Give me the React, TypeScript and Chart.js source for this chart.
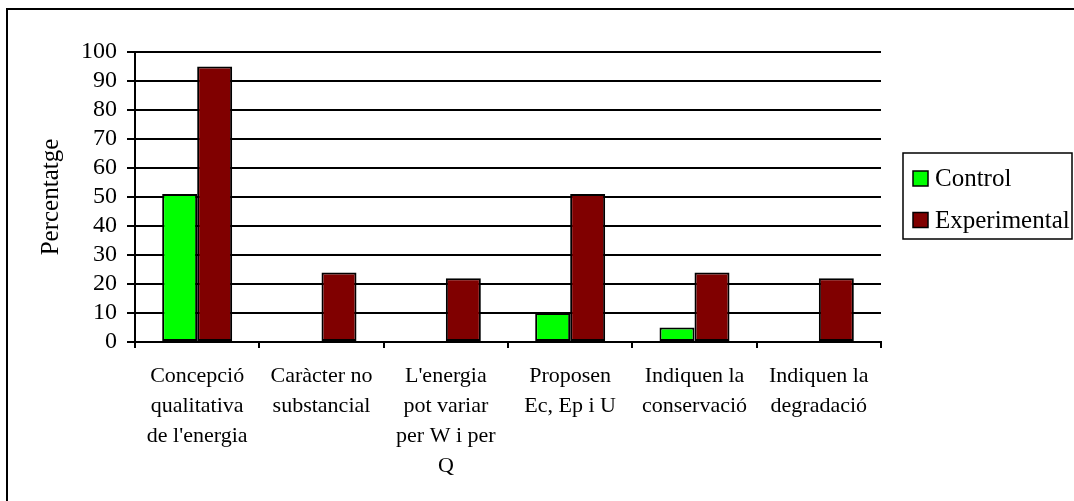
import React, { useEffect, useRef } from "react";
import { Chart, registerables } from "chart.js";

Chart.register(...registerables);

const categories: string[][] = [
  ["Concepció", "qualitativa", "de l'energia"],
  ["Caràcter no", "substancial"],
  ["L'energia", "pot variar", "per W i per", "Q"],
  ["Proposen", "Ec, Ep i U"],
  ["Indiquen la", "conservació"],
  ["Indiquen la", "degradació"],
];
const controlValues = [51, 0, 0, 10, 5, 0];
const experimentalValues = [95, 24, 22, 51, 24, 22];
const seriesNames = ["Control", "Experimental"];
const yAxisTitle = "Percentatge";

const FONT = "'Liberation Serif', 'Times New Roman', serif";

const legendPlugin = {
  id: "boxLegend",
  afterDraw(chart: any) {
    const ctx = chart.ctx;
    ctx.save();
    // outer frame
    ctx.strokeStyle = "#000";
    ctx.lineWidth = 2;
    ctx.strokeRect(7, 9, 1200, 700);
    // legend box
    const bx = 903, by = 153, bw = 169, bh = 86;
    ctx.lineWidth = 1.5;
    ctx.strokeRect(bx, by, bw, bh);
    ctx.font = `25px ${FONT}`;
    ctx.textBaseline = "middle";
    ctx.textAlign = "left";
    chart.data.datasets.forEach((ds: any, i: number) => {
      const cy = 178.5 + i * 41.5;
      ctx.fillStyle = ds.backgroundColor;
      ctx.fillRect(913, cy - 7.5, 15, 15);
      ctx.strokeStyle = "#000";
      ctx.lineWidth = 1.5;
      ctx.strokeRect(913, cy - 7.5, 15, 15);
      ctx.fillStyle = "#000";
      ctx.fillText(ds.label, 935, cy + 1);
    });
    ctx.restore();
  },
};

export default function App() {
  const ref = useRef<HTMLCanvasElement | null>(null);
  useEffect(() => {
    if (!ref.current) return;
    const chart = new Chart(ref.current, {
      type: "bar",
      data: {
        labels: categories,
        datasets: [
          {
            label: seriesNames[0],
            data: controlValues,
            backgroundColor: "#00FF00",
            borderColor: "#000",
            borderWidth: 2,
            borderSkipped: false,
          },
          {
            label: seriesNames[1],
            data: experimentalValues,
            backgroundColor: "#800000",
            borderColor: "#000",
            borderWidth: 2,
            borderSkipped: false,
          },
        ],
      },
      options: {
        animation: false,
        responsive: false,
        devicePixelRatio: 1,
        layout: { padding: { top: 52, right: 193, left: 0, bottom: 0 } },
        plugins: {
          legend: { display: false },
          tooltip: { enabled: false },
        },
        datasets: {
          bar: { categoryPercentage: 0.563, barPercentage: 1 },
        },
        scales: {
          x: {
            afterFit: (s: any) => {
              s.height = 159;
            },
            grid: {
              offset: true,
              drawOnChartArea: false,
              color: "#000",
              lineWidth: 2,
              tickLength: 6,
            },
            border: { color: "#000", width: 2 },
            ticks: {
              color: "#000",
              font: { family: FONT, size: 22, lineHeight: 1.36 },
              padding: 13,
              maxRotation: 0,
              autoSkip: false,
            },
          },
          y: {
            min: 0,
            max: 100,
            afterFit: (s: any) => {
              s.width = 135;
            },
            grid: {
              color: "#000",
              lineWidth: 2,
              tickLength: 8,
            },
            border: { color: "#000", width: 2 },
            ticks: {
              stepSize: 10,
              autoSkip: false,
              color: "#000",
              font: { family: FONT, size: 24 },
              padding: 10,
            },
            title: {
              display: true,
              text: yAxisTitle,
              color: "#000",
              font: { family: FONT, size: 25, lineHeight: 1.2 },
              padding: { top: 36, bottom: 0 },
            },
          },
        },
      },
      plugins: [legendPlugin],
    });
    return () => chart.destroy();
  }, []);
  return (
    <div style={{ position: "absolute", left: 0, top: 0, width: 1074, height: 501, background: "#fff" }}>
      <canvas ref={ref} width={1074} height={501} style={{ width: 1074, height: 501, display: "block" }} />
    </div>
  );
}
